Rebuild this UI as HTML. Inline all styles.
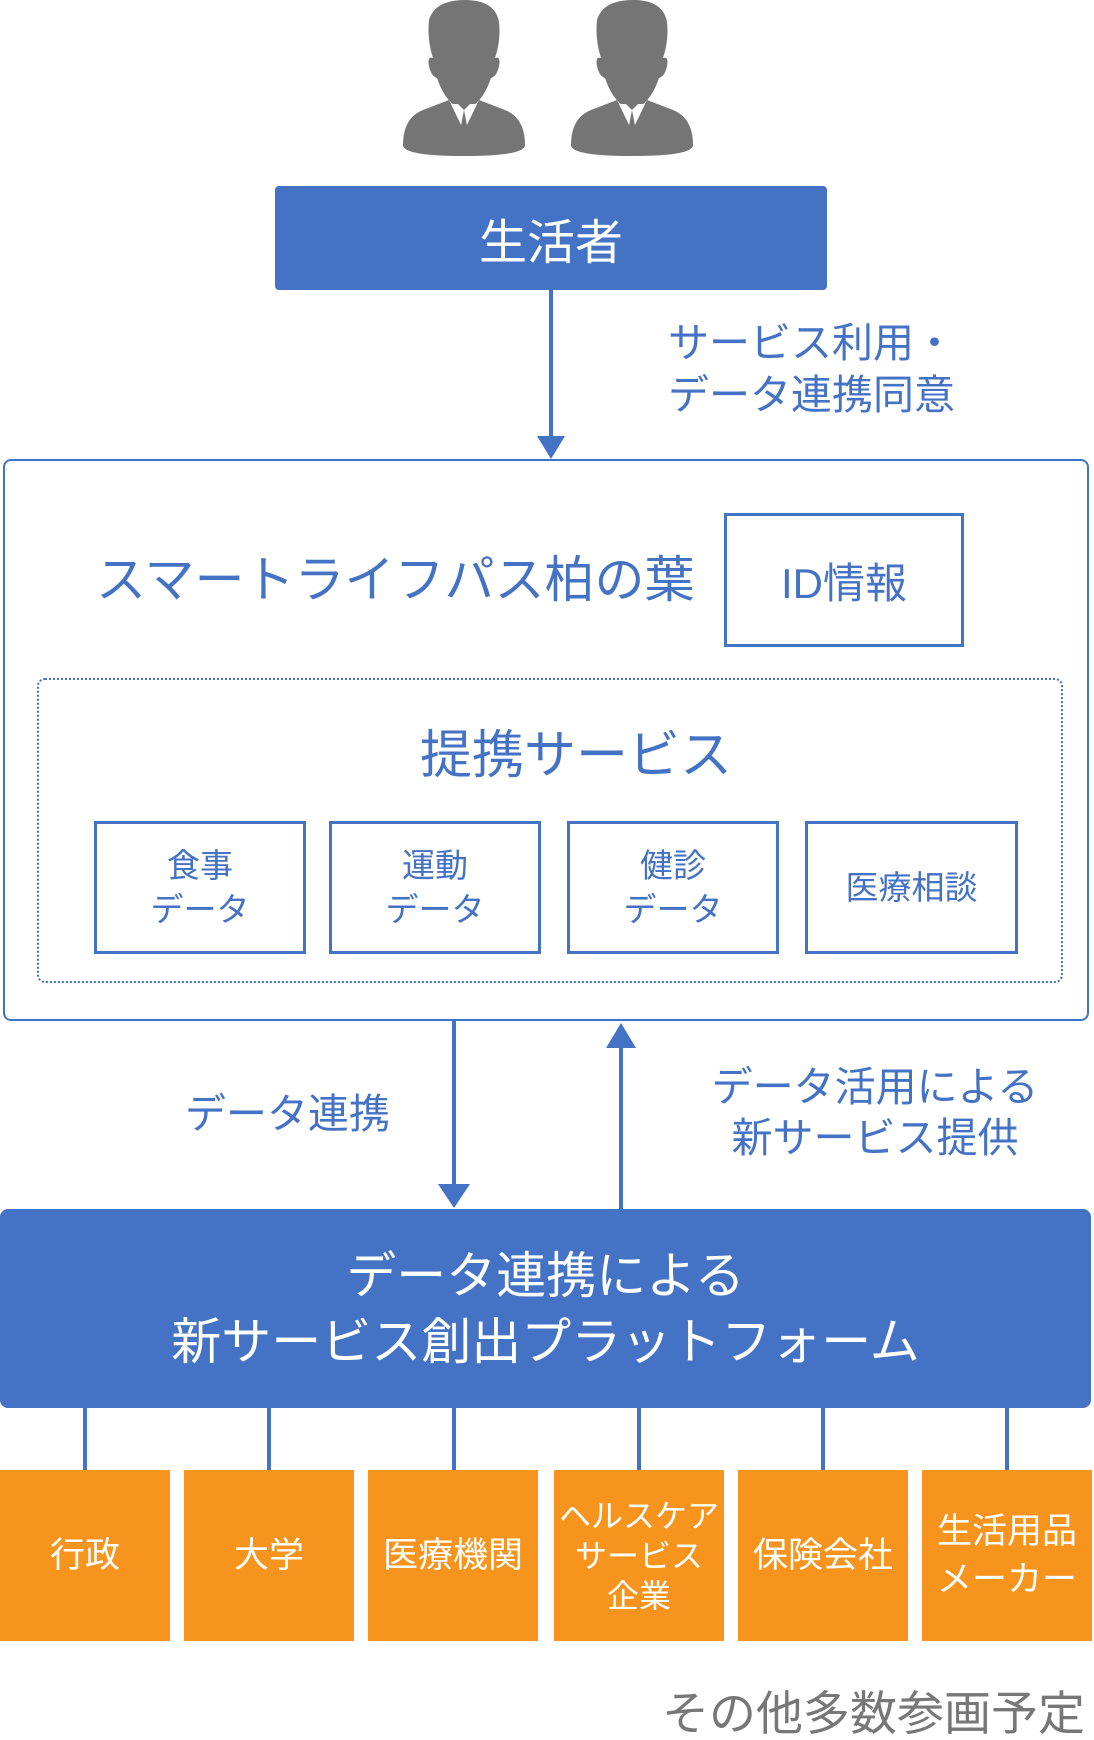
<!DOCTYPE html>
<html><head><meta charset="utf-8"><style>
body{margin:0;width:1094px;height:1739px;position:relative;background:#fff;font-family:"Liberation Sans","Noto Sans CJK JP",sans-serif;overflow:hidden}
.a{position:absolute}
.c{display:flex;align-items:center;justify-content:center;text-align:center;box-sizing:border-box}
.bl{color:#4472C4}
.sb{border:3px solid #4472C4;font-size:33px;line-height:44px;color:#4472C4}
.or{background:#F7941D;color:#fff;font-size:35px;line-height:40px;top:1470px;height:171px;width:170px}
.vl{background:#4472C4;width:4px;top:1408px;height:62px}
</style></head><body>
<svg class="a" style="left:0;top:0" width="1094" height="1739">
<g fill="#757575">
<g transform="translate(403,0)">
<path d="M26 20 Q32 0 62 0 Q92 0 96 22 Q98 40 92 58 Q98 56 96 66 Q94 76 88 78 Q82 96 72 104 L50 104 Q40 96 34 78 Q28 76 26 66 Q24 56 30 58 Q24 40 26 20Z"/>
<path d="M0 145 Q0 118 20 110 L46 100 L58 125 L61 110 L55 104 L67 104 L61 110 L64 125 L76 100 L102 110 Q122 118 122 145 Q122 156 61 156 Q0 156 0 145Z"/>
</g>
<g transform="translate(571,0)">
<path d="M26 20 Q32 0 62 0 Q92 0 96 22 Q98 40 92 58 Q98 56 96 66 Q94 76 88 78 Q82 96 72 104 L50 104 Q40 96 34 78 Q28 76 26 66 Q24 56 30 58 Q24 40 26 20Z"/>
<path d="M0 145 Q0 118 20 110 L46 100 L58 125 L61 110 L55 104 L67 104 L61 110 L64 125 L76 100 L102 110 Q122 118 122 145 Q122 156 61 156 Q0 156 0 145Z"/>
</g>
</g>
<g fill="#4472C4" stroke="none">
<rect x="549" y="290" width="4" height="148"/><polygon points="537,436 565,436 551,459"/>
<rect x="452" y="1021" width="4" height="166"/><polygon points="438,1184 470,1184 454,1208"/>
<rect x="619" y="1045" width="4" height="164"/><polygon points="606,1048 636,1048 621,1023"/>
</g>
</svg>
<div class="a c" style="left:275px;top:186px;width:552px;height:104px;background:#4472C4;border-radius:4px;color:#fff;font-size:48px">生活者</div>
<div class="a bl" style="left:668px;top:317px;font-size:41px;line-height:52px;white-space:nowrap">サービス利用・<br>データ連携同意</div>
<div class="a" style="left:3px;top:459px;width:1086px;height:562px;border:2px solid #4472C4;border-radius:8px;box-sizing:border-box"></div>
<div class="a bl" style="left:96px;top:549px;font-size:50px;line-height:62px;white-space:nowrap">スマートライフパス柏の葉</div>
<div class="a c bl" style="left:724px;top:513px;width:240px;height:134px;border:3px solid #4472C4;font-size:42px">ID情報</div>
<div class="a" style="left:37px;top:678px;width:1026px;height:305px;border:2px dotted #4472C4;border-radius:8px;box-sizing:border-box"></div>
<div class="a c bl" style="left:276px;top:718px;width:600px;height:64px;font-size:52px">提携サービス</div>
<div class="a c sb" style="left:94px;top:821px;width:212px;height:133px">食事<br>データ</div>
<div class="a c sb" style="left:329px;top:821px;width:212px;height:133px">運動<br>データ</div>
<div class="a c sb" style="left:567px;top:821px;width:212px;height:133px">健診<br>データ</div>
<div class="a c sb" style="left:805px;top:821px;width:213px;height:133px">医療相談</div>
<div class="a bl" style="left:185px;top:1090px;font-size:41px;line-height:48px;white-space:nowrap">データ連携</div>
<div class="a bl" style="left:695px;top:1062px;font-size:41px;line-height:51px;text-align:center;width:360px">データ活用による<br>新サービス提供</div>
<div class="a c" style="left:0;top:1209px;width:1091px;height:199px;background:#4472C4;border-radius:8px;color:#fff;font-size:50px;line-height:66px">データ連携による<br>新サービス創出プラットフォーム</div>
<div class="a vl" style="left:83px"></div><div class="a vl" style="left:267px"></div><div class="a vl" style="left:452px"></div><div class="a vl" style="left:637px"></div><div class="a vl" style="left:821px"></div><div class="a vl" style="left:1005px"></div>
<div class="a c or" style="left:0">行政</div>
<div class="a c or" style="left:184px">大学</div>
<div class="a c or" style="left:368px">医療機関</div>
<div class="a c or" style="left:554px;font-size:32px">ヘルスケア<br>サービス<br>企業</div>
<div class="a c or" style="left:738px">保険会社</div>
<div class="a c or" style="left:922px;line-height:48px">生活用品<br>メーカー</div>
<div class="a" style="left:662px;top:1688px;font-size:47px;line-height:52px;color:#777;white-space:nowrap">その他多数参画予定</div>
</body></html>
